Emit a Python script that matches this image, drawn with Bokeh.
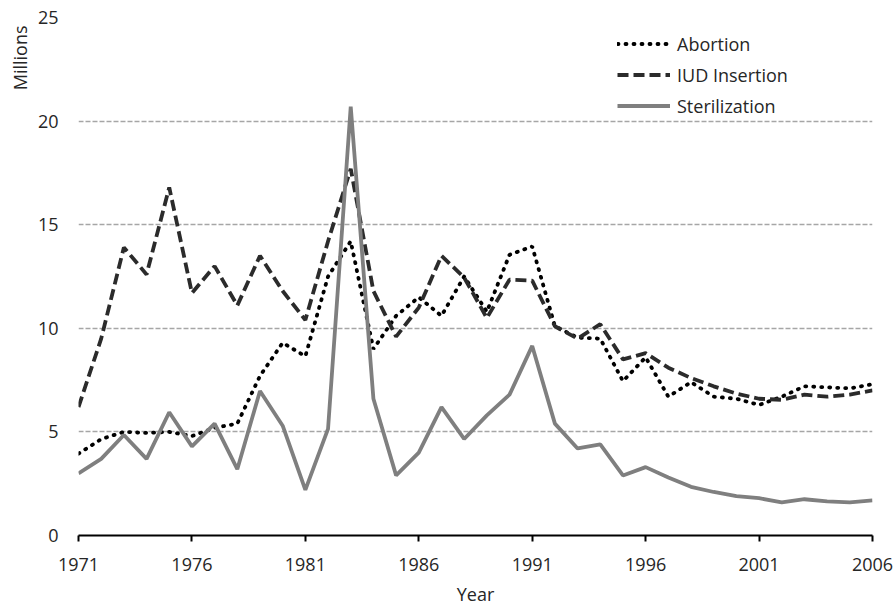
from bokeh.plotting import figure
from bokeh.models import Range1d, FixedTicker, Legend, LegendItem, Title
from bokeh.embed import file_html
from bokeh.resources import INLINE

years = list(range(1971, 2007))
abortion = [3.95, 4.65, 5.0, 4.95, 5.0, 4.8, 5.2, 5.4, 7.7, 9.3,
            8.65, 12.5, 14.2, 9.0, 10.6, 11.5, 10.6, 12.5, 10.8, 13.55,
            13.95, 10.1, 9.55, 9.5, 7.45, 8.6, 6.7, 7.4, 6.7, 6.6,
            6.3, 6.7, 7.2, 7.15, 7.1, 7.3]
iud = [6.2, 9.5, 13.9, 12.6, 16.8, 11.7, 13.0, 11.1, 13.5, 11.8,
       10.4, 14.2, 17.7, 11.8, 9.6, 11.0, 13.5, 12.45, 10.5, 12.35,
       12.3, 10.1, 9.5, 10.2, 8.5, 8.8, 8.1, 7.6, 7.2, 6.85,
       6.6, 6.55, 6.8, 6.7, 6.8, 7.0]
sterilization = [3.0, 3.7, 4.85, 3.7, 5.95, 4.3, 5.4, 3.2, 6.97, 5.3,
                 2.2, 5.15, 20.7, 6.6, 2.9, 4.0, 6.2, 4.66, 5.8, 6.8,
                 9.15, 5.4, 4.2, 4.4, 2.9, 3.3, 2.8, 2.35, 2.1, 1.9,
                 1.8, 1.6, 1.75, 1.65, 1.6, 1.7]
x_ticks = [1971, 1976, 1981, 1986, 1991, 1996, 2001, 2006]
y_ticks = [0, 5, 10, 15, 20, 25]

FONT = "Open Sans"
TXT = "#262626"

p = figure(width=895, height=608, output_backend="svg", toolbar_location=None,
           x_range=Range1d(1971, 2006), y_range=Range1d(0, 25),
           min_border_left=78, min_border_right=23, min_border_top=17,
           min_border_bottom=71)
p.outline_line_color = None
p.background_fill_color = "white"

# grid
p.xgrid.grid_line_color = None
p.ygrid.ticker = FixedTicker(ticks=y_ticks)
p.ygrid.grid_line_color = "#a6a6a6"
p.ygrid.grid_line_width = 1.5
p.ygrid.grid_line_dash = "5 2"

# x axis
p.xaxis.ticker = FixedTicker(ticks=x_ticks)
p.xaxis.axis_line_color = "black"
p.xaxis.axis_line_width = 2
p.xaxis.major_tick_line_color = "black"
p.xaxis.major_tick_line_width = 2
p.xaxis.major_tick_in = 0
p.xaxis.major_tick_out = 6
p.xaxis.minor_tick_line_color = None
p.xaxis.major_label_text_font = FONT
p.xaxis.major_label_text_font_size = "18px"
p.xaxis.major_label_text_color = TXT
p.xaxis.major_label_standoff = 16
p.xaxis.axis_label = "Year"
p.xaxis.axis_label_text_font = FONT
p.xaxis.axis_label_text_font_size = "18px"
p.xaxis.axis_label_text_font_style = "normal"
p.xaxis.axis_label_text_color = TXT
p.xaxis.axis_label_standoff = 8

# y axis
p.yaxis.ticker = FixedTicker(ticks=y_ticks)
p.yaxis.axis_line_color = None
p.yaxis.major_tick_line_color = None
p.yaxis.minor_tick_line_color = None
p.yaxis.major_tick_in = 0
p.yaxis.major_tick_out = 0
p.yaxis.major_label_standoff = 20
p.yaxis.major_label_text_font = FONT
p.yaxis.major_label_text_font_size = "18px"
p.yaxis.major_label_text_color = TXT

l_ab = p.line(years, abortion, line_color="black", line_width=3.8,
              line_dash="1 7", line_cap="round")
l_iud = p.line(years, iud, line_color="#2b2b2b", line_width=3.8,
               line_dash="11 5")
l_st = p.line(years, sterilization, line_color="#7f7f7f", line_width=3.8)

legend = Legend(items=[LegendItem(label="Abortion", renderers=[l_ab]),
                       LegendItem(label="IUD Insertion", renderers=[l_iud]),
                       LegendItem(label="Sterilization", renderers=[l_st])],
                location=(539, 414), orientation="vertical",
                glyph_width=53, glyph_height=31, spacing=0, padding=0,
                margin=0, label_standoff=7, label_height=31,
                border_line_color=None, background_fill_alpha=0,
                label_text_font=FONT, label_text_font_size="18px",
                label_text_color=TXT)
p.add_layout(legend)

p.add_layout(Title(text="Millions", align="right", offset=8, standoff=6,
                   text_font=FONT, text_font_size="18px",
                   text_font_style="normal", text_color=TXT), "left")

open("out.html", "w").write(file_html(p, INLINE))
